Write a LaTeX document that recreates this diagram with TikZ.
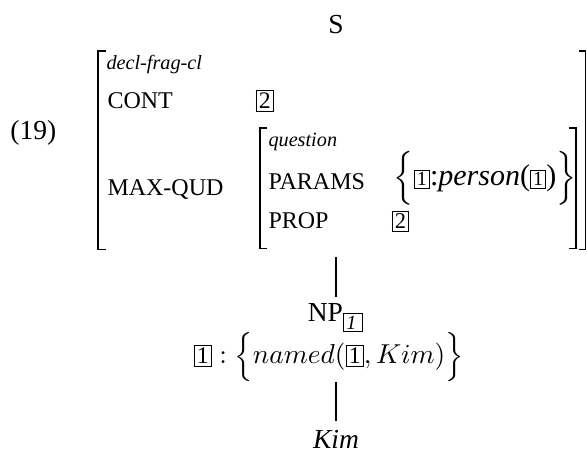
\documentclass[tikz,border=0pt]{standalone}
\usepackage{amsmath}
\usepackage{fontspec}
\setmainfont{Liberation Serif}
\usetikzlibrary{positioning}

\newcommand{\mainsize}{\fontsize{11}{13}\selectfont}
\newcommand{\avmsize}{\fontsize{9.6}{11.5}\selectfont}
\newcommand{\typesize}{\fontsize{8.1}{9.7}\selectfont\itshape}
\newcommand{\tagbox}[2][9.5]{{\setlength{\fboxsep}{0.9pt}\setlength{\fboxrule}{0.4pt}\fbox{\fontsize{#1}{#1}\selectfont #2}}}

\begin{document}
\begin{tikzpicture}[x=0.4pt, y=-0.4pt,
    attr/.style={anchor=base west, inner sep=0pt, font=\avmsize},
    type/.style={anchor=base west, inner sep=0pt, font=\typesize},
    cat/.style={anchor=base, inner sep=2.7pt, font=\mainsize},
    brack/.style={line width=0.55pt},
    branch/.style={line width=0.45pt}]
    \useasboundingbox (0,0) rectangle (587,451);

    \node[anchor=base west, inner sep=0pt, font=\mainsize] (ex) at (10,140) {(19)};
    \node[cat] (s) at (336,34) {S};

    \draw[brack] (106,51) -- (98,51) -- (98,249.5) -- (106,249.5);
    \draw[brack] (579,51) -- (585.5,51) -- (585.5,249.5) -- (579,249.5);
    \node[type] (t_out) at (106,70) {decl-frag-cl};
    \node[attr] (cont) at (107,109) {CONT};
    \node[attr] (cont_v) at (255,109) {\tagbox{2}};
    \node[attr] (maxqud) at (107,196) {MAX-QUD};

    \draw[brack] (267,128) -- (260,128) -- (260,248.5) -- (267,248.5);
    \draw[brack] (569,128) -- (576,128) -- (576,248.5) -- (569,248.5);
    \node[type] (t_in) at (268,146.5) {question};
    \node[attr] (params) at (268,190) {PARAMS};
    \node[attr, font=\fontsize{12}{14}\selectfont] (params_v) at (393,186)
        {$\Bigl\{$\tagbox[8]{1}:\textit{person}(\tagbox[8]{1})$\Bigr\}$};
    \node[attr] (prop) at (268,229) {PROP};
    \node[attr] (prop_v) at (391,229) {\tagbox[9]{2}};

    \coordinate (avm) at (336,257);
    \node[cat] (np) at (336,322) {NP$_{\tagbox[8]{\itshape 1\,}}$};
    \node[anchor=base west, inner sep=0pt, font=\mainsize] (sem) at (193,364)
        {$\tagbox[9.5]{1} : \Bigl\{ named(\tagbox[9.5]{1}, Kim) \Bigr\}$};
    \node[anchor=base, inner sep=0pt, font=\mainsize] (kim) at (336,448.5) {\textit{Kim}};

    \draw[branch] (avm) -- (np.north);
    \draw[branch] (sem.south -| kim.north) -- ([yshift=3.6pt]kim.north);
\end{tikzpicture}
\end{document}
